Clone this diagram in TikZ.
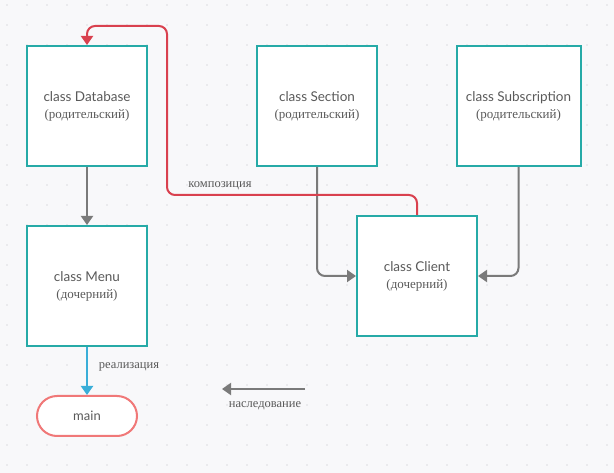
\documentclass[tikz,border=0pt]{standalone}
\usepackage{fontspec}
\setmainfont{Liberation Serif}
\newfontfamily\titlefont{Lato}
\usetikzlibrary{arrows.meta}
\definecolor{bgc}{HTML}{F8F8FA}
\definecolor{dotc}{HTML}{DCDCE0}
\definecolor{tealc}{HTML}{26AAA7}
\definecolor{redc}{HTML}{D9414F}
\definecolor{salmonc}{HTML}{F07878}
\definecolor{bluec}{HTML}{3AAED8}
\definecolor{grayc}{HTML}{7A7A7A}
\definecolor{textc}{HTML}{5A5A5A}
\tikzset{
  classbox/.style={draw=tealc, line width=2pt, fill=white, minimum width=120pt, minimum height=120pt, inner sep=0pt, align=center, text=textc},
  mainbox/.style={draw=salmonc, line width=2pt, fill=white, minimum width=100pt, minimum height=40pt, rounded corners=20pt, inner sep=0pt, text=textc, font=\titlefont\fontsize{13}{15}\selectfont},
  grayarrow/.style={draw=grayc, line width=2pt, -{Triangle[width=12pt,length=9pt]}},
  redarrow/.style={draw=redc, line width=2pt, rounded corners=8pt, -{Triangle[width=12pt,length=9pt]}},
  bluearrow/.style={draw=bluec, line width=2pt, -{Triangle[width=12pt,length=9pt]}},
  edgelabel/.style={text=textc, font=\fontsize{12.5}{14}\selectfont, inner sep=0pt}
}
\newcommand{\ctitle}[2]{{\titlefont\fontsize{13.5}{15}\selectfont #1}\\[5pt]{\fontsize{13}{14}\selectfont #2}}
\begin{document}
\begin{tikzpicture}[x=1pt,y=-1pt]
\fill[bgc] (0,0) rectangle (614,473);
\useasboundingbox (0,0) rectangle (614,473);
\foreach \x in {7,27,...,607} {
  \foreach \y in {5,25,...,465} {
    \fill[dotc] (\x,\y) circle (0.9pt);
  }
}
\node[classbox] (db) at (87,106) {\ctitle{class Database}{(родительский)}};
\node[classbox] (sec) at (317,106) {\ctitle{class Section}{(родительский)}};
\node[classbox, minimum width=124pt] (sub) at (518.5,106) {\ctitle{class Subscription}{(родительский)}};
\node[classbox] (menu) at (87,286) {\ctitle{class Menu}{(дочерний)}};
\node[classbox] (cl) at (417,276) {\ctitle{class Client}{(дочерний)}};
\node[mainbox] (main) at (87,416) {main};

\draw[grayarrow] (db.south) -- (menu.north);
\draw[grayarrow, rounded corners=8pt] (sec.south) |- (cl.west);
\draw[grayarrow, rounded corners=8pt] (sub.south) |- (cl.east);
\coordinate (c1) at (167,195);
\coordinate (c2) at (167,26);
\draw[redarrow] (cl.north) |- (c1) -- (c2) -| (db.north);
\node[edgelabel] (lcomp) at (220,186) {композиция};
\draw[bluearrow] (menu.south) -- (main.north);
\node[edgelabel] (lreal) at (129,367) {реализация};
\coordinate (l1) at (305,389);
\coordinate (l2) at (222,389);
\draw[grayarrow] (l1) -- (l2);
\node[edgelabel] (linh) at (265,406) {наследование};
\end{tikzpicture}
\end{document}
